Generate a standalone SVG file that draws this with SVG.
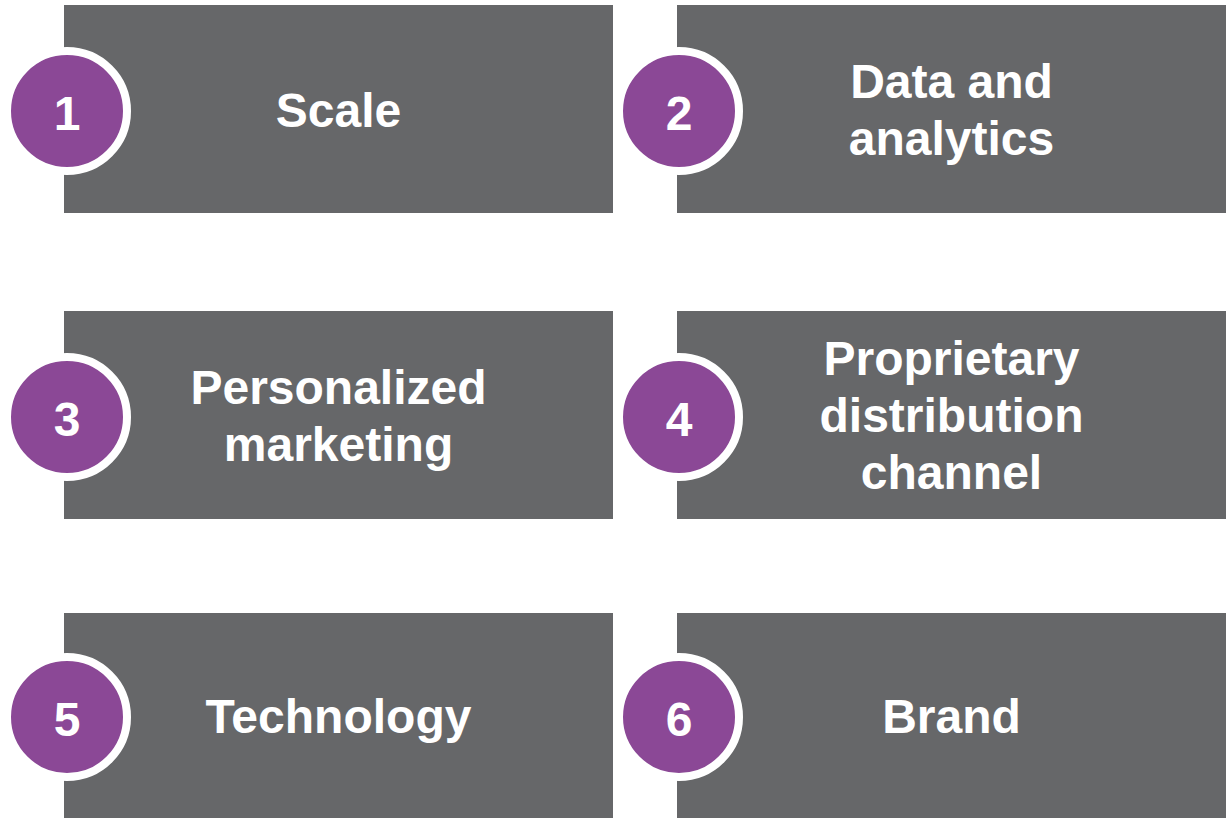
<svg xmlns="http://www.w3.org/2000/svg" width="1230" height="818" viewBox="0 0 1230 818">
  <style>
    .box { fill: #666769; }
    .badge { fill: #8B4896; stroke: #FFFFFF; stroke-width: 8; }
    .label { font-family: "Liberation Sans", Arial, sans-serif; font-weight: bold; font-size: 48px; fill: #FFFFFF; text-anchor: middle; }
  </style>
  <rect width="1230" height="818" fill="#FFFFFF"/>
  <g id="connectors"/>

  <g id="node-1">
    <rect class="box" x="64" y="5" width="549" height="208"/>
    <circle class="badge" cx="67" cy="111" r="60"/>
    <text class="label" x="67" y="130">1</text>
    <text class="label" x="338.5" y="127">Scale</text>
  </g>

  <g id="node-2">
    <rect class="box" x="677" y="5" width="549" height="208"/>
    <circle class="badge" cx="679" cy="111" r="60"/>
    <text class="label" x="679" y="130">2</text>
    <text class="label" x="951.5" y="98">Data and</text>
    <text class="label" x="951.5" y="155">analytics</text>
  </g>

  <g id="node-3">
    <rect class="box" x="64" y="311" width="549" height="208"/>
    <circle class="badge" cx="67" cy="417" r="60"/>
    <text class="label" x="67" y="436">3</text>
    <text class="label" x="338.5" y="404">Personalized</text>
    <text class="label" x="338.5" y="461">marketing</text>
  </g>

  <g id="node-4">
    <rect class="box" x="677" y="311" width="549" height="208"/>
    <circle class="badge" cx="679" cy="417" r="60"/>
    <text class="label" x="679" y="436">4</text>
    <text class="label" x="951.5" y="375">Proprietary</text>
    <text class="label" x="951.5" y="432">distribution</text>
    <text class="label" x="951.5" y="489">channel</text>
  </g>

  <g id="node-5">
    <rect class="box" x="64" y="613" width="549" height="210"/>
    <circle class="badge" cx="67" cy="717" r="60"/>
    <text class="label" x="67" y="736">5</text>
    <text class="label" x="338.5" y="733">Technology</text>
  </g>

  <g id="node-6">
    <rect class="box" x="677" y="613" width="549" height="210"/>
    <circle class="badge" cx="679" cy="717" r="60"/>
    <text class="label" x="679" y="736">6</text>
    <text class="label" x="951.5" y="733">Brand</text>
  </g>
</svg>
